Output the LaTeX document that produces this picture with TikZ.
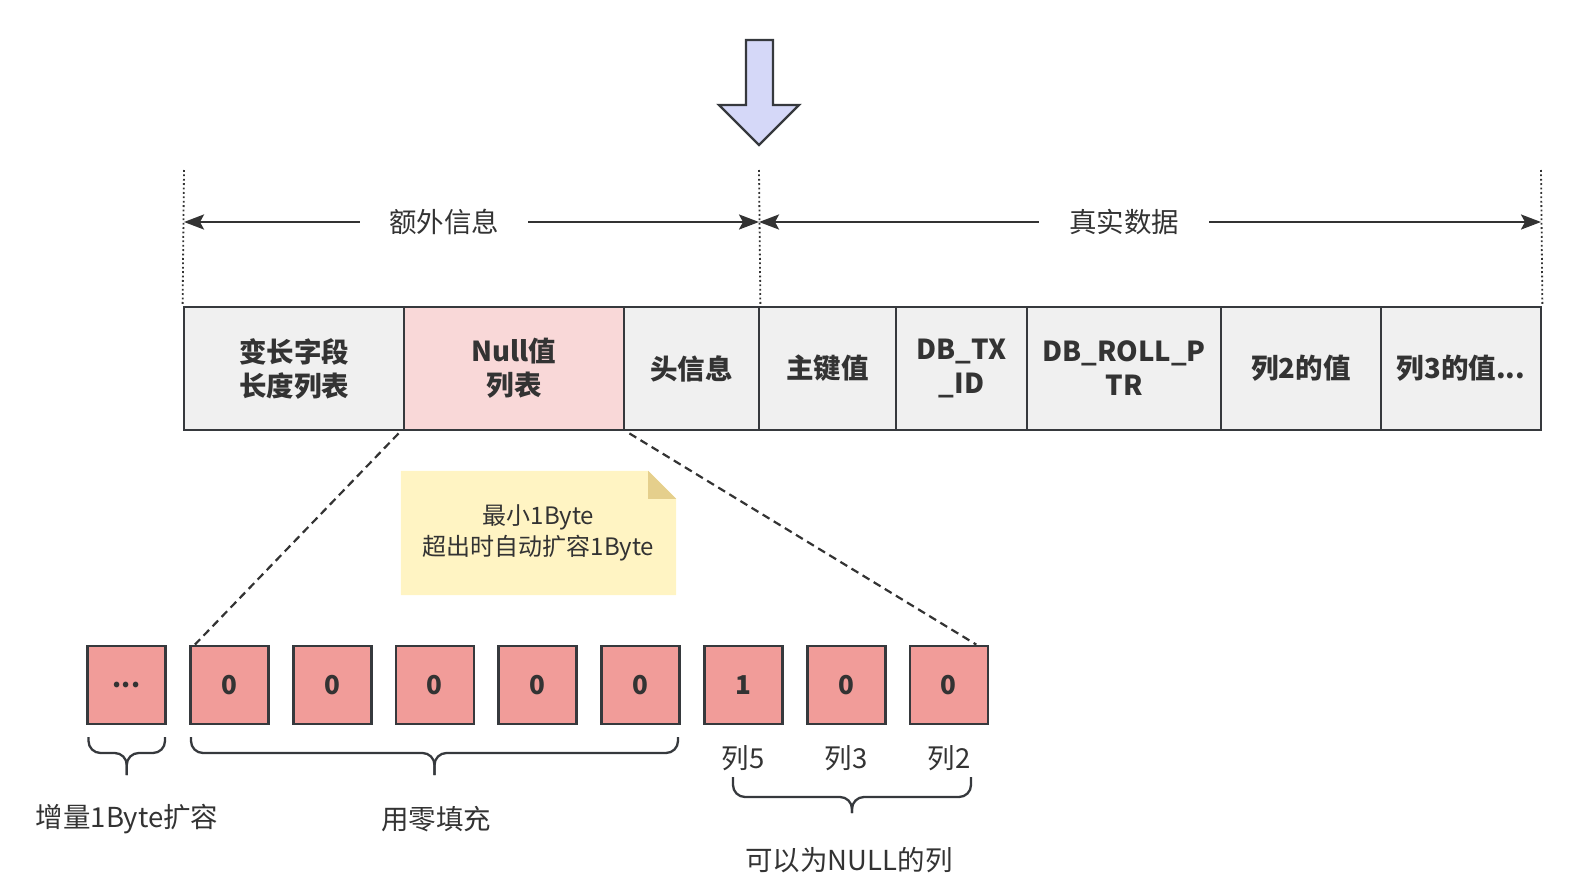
\documentclass[tikz,border=0pt]{standalone}
\usepackage{fontspec}
\setmainfont{Noto Sans CJK SC}
\usetikzlibrary{arrows.meta,calc}
\definecolor{strokec}{HTML}{36393D}
\definecolor{txtc}{HTML}{333333}
\definecolor{rowgray}{HTML}{F0F0F0}
\definecolor{nullpink}{HTML}{F9D8D8}
\definecolor{cellred}{HTML}{F19C99}
\definecolor{arrowfill}{HTML}{D5D8F8}
\definecolor{notefill}{HTML}{FFF4C3}
\definecolor{notefold}{HTML}{E5CF8C}
\tikzset{
  rowbox/.style={draw=strokec, line width=2.8pt, fill=rowgray, minimum height=123pt, inner sep=0pt,
    align=center, text=txtc, font=\fontsize{27.5}{34}\selectfont\bfseries},
  cell/.style={draw=strokec, line width=2.8pt, fill=cellred, minimum width=78pt, minimum height=78pt,
    inner sep=0pt, text=txtc, font=\fontsize{26}{30}\selectfont\bfseries},
  lbl/.style={text=txtc, font=\fontsize{27.5}{30}\selectfont, inner sep=0pt},
  dimtext/.style={text=txtc, font=\fontsize{27.5}{30}\selectfont, inner ysep=0pt},
  dimline/.style={draw=txtc, line width=2.5pt, -{Stealth[length=20pt,width=15pt,inset=4pt]}},
  guide/.style={draw=txtc, line width=1.8pt, dash pattern=on 1.8pt off 2.6pt},
  zoomline/.style={draw=txtc, line width=2.2pt, dash pattern=on 8pt off 5pt},
  bracec/.style={draw=strokec, line width=2.3pt, rounded corners=12pt},
}
\begin{document}
\begin{tikzpicture}[x=1pt,y=-1pt]
\useasboundingbox (0,0) rectangle (1596,889);

% big down arrow
\filldraw[fill=arrowfill, draw=strokec, line width=2.3pt, line join=miter]
  (746,40) -- (773,40) -- (773,105) -- (799,105) -- (759,145) -- (719,105) -- (746,105) -- cycle;

% guides
\coordinate (gl) at (184,170);
\coordinate (gm) at (759,170);
\coordinate (gr) at (1541,170);
\coordinate (dl) at (184,222);
\coordinate (dm) at (759,222);
\coordinate (dr) at (1541,222);

% row boxes
\node[rowbox, minimum width=220pt] (b1) at (294,368.5) {变长字段\\长度列表};
\node[rowbox, minimum width=220pt, fill=nullpink] (b2) at (514,368.5) {Null值\\列表};
\node[rowbox, minimum width=135pt] (b3) at (691.5,368.5) {头信息};
\node[rowbox, minimum width=137pt] (b4) at (827.5,368.5) {主键值};
\node[rowbox, minimum width=131pt] (b5) at (961.5,368.5) {DB\_TX\\\_ID};
\node[rowbox, minimum width=194pt] (b6) at (1124,368.5) {DB\_ROLL\_P\\TR};
\node[rowbox, minimum width=160pt] (b7) at (1301,368.5) {列2的值};
\node[rowbox, minimum width=160pt] (b8) at (1461,368.5) {列3的值...};

\draw[guide] (gl) -- (b1.north west);
\draw[guide] (gm) -- (b3.north east);
\draw[guide] (gr) -- (b8.north east);

% dimension labels and arrows
\node[dimtext, inner xsep=29pt] (t1) at (444,222) {额外信息};
\node[dimtext, inner xsep=30pt] (t2) at (1124,222) {真实数据};
\draw[dimline] (t1.west) -- (dl);
\draw[dimline] (t1.east) -- (dm);
\draw[dimline] (t2.west) -- (dm);
\draw[dimline] (t2.east) -- (dr);

% note
\node[minimum width=275pt, minimum height=124pt, inner sep=0pt] (note) at (538.5,533) {};
\fill[notefill] (note.north west) -- ($(note.north east)+(-28,0)$) -- ($(note.north east)+(0,28)$)
  -- (note.south east) -- (note.south west) -- cycle;
\fill[notefold] ($(note.north east)+(-28,0)$) -- ($(note.north east)+(0,28)$) -- ($(note.north east)+(-28,28)$) -- cycle;
\node[text=txtc, font=\fontsize{24}{31}\selectfont, align=center, inner sep=0pt] (notetext) at (538.5,533) {最小1Byte\\超出时自动扩容1Byte};

% cells
\node[cell] (s0) at (126.5,685) {...};
\node[cell] (s1) at (229.3,685) {0};
\node[cell] (s2) at (332.1,685) {0};
\node[cell] (s3) at (434.9,685) {0};
\node[cell] (s4) at (537.7,685) {0};
\node[cell] (s5) at (640.5,685) {0};
\node[cell] (s6) at (743.3,685) {1};
\node[cell] (s7) at (846.1,685) {0};
\node[cell] (s8) at (948.9,685) {0};

% zoom lines
\draw[zoomline] ($(b2.south west)+(-4,2)$) -- ($(s1.north west)+(6,0)$);
\draw[zoomline] ($(b2.south east)+(4,2)$) -- ($(s8.north east)+(-13,0)$);

% braces
\draw[bracec] (88.5,737) -- (88.5,753) -- (126.75,753) -- (126.75,775);
\draw[bracec] (165,737) -- (165,753) -- (126.75,753) -- (126.75,775);
\draw[bracec] (191,737) -- (191,753) -- (434.5,753) -- (434.5,775);
\draw[bracec] (678,737) -- (678,753) -- (434.5,753) -- (434.5,775);
\draw[bracec] (733,777) -- (733,797) -- (852,797) -- (852,813);
\draw[bracec] (971,777) -- (971,797) -- (852,797) -- (852,813);

% labels
\node[lbl] (l0) at (127,819) {增量1Byte扩容};
\node[lbl] (l1) at (436,819) {用零填充};
\node[lbl] (c5) at (743,758) {列5};
\node[lbl] (c3) at (846,758) {列3};
\node[lbl] (c2) at (949,758) {列2};
\node[lbl] (l2) at (849,860) {可以为NULL的列};
\end{tikzpicture}
\end{document}
